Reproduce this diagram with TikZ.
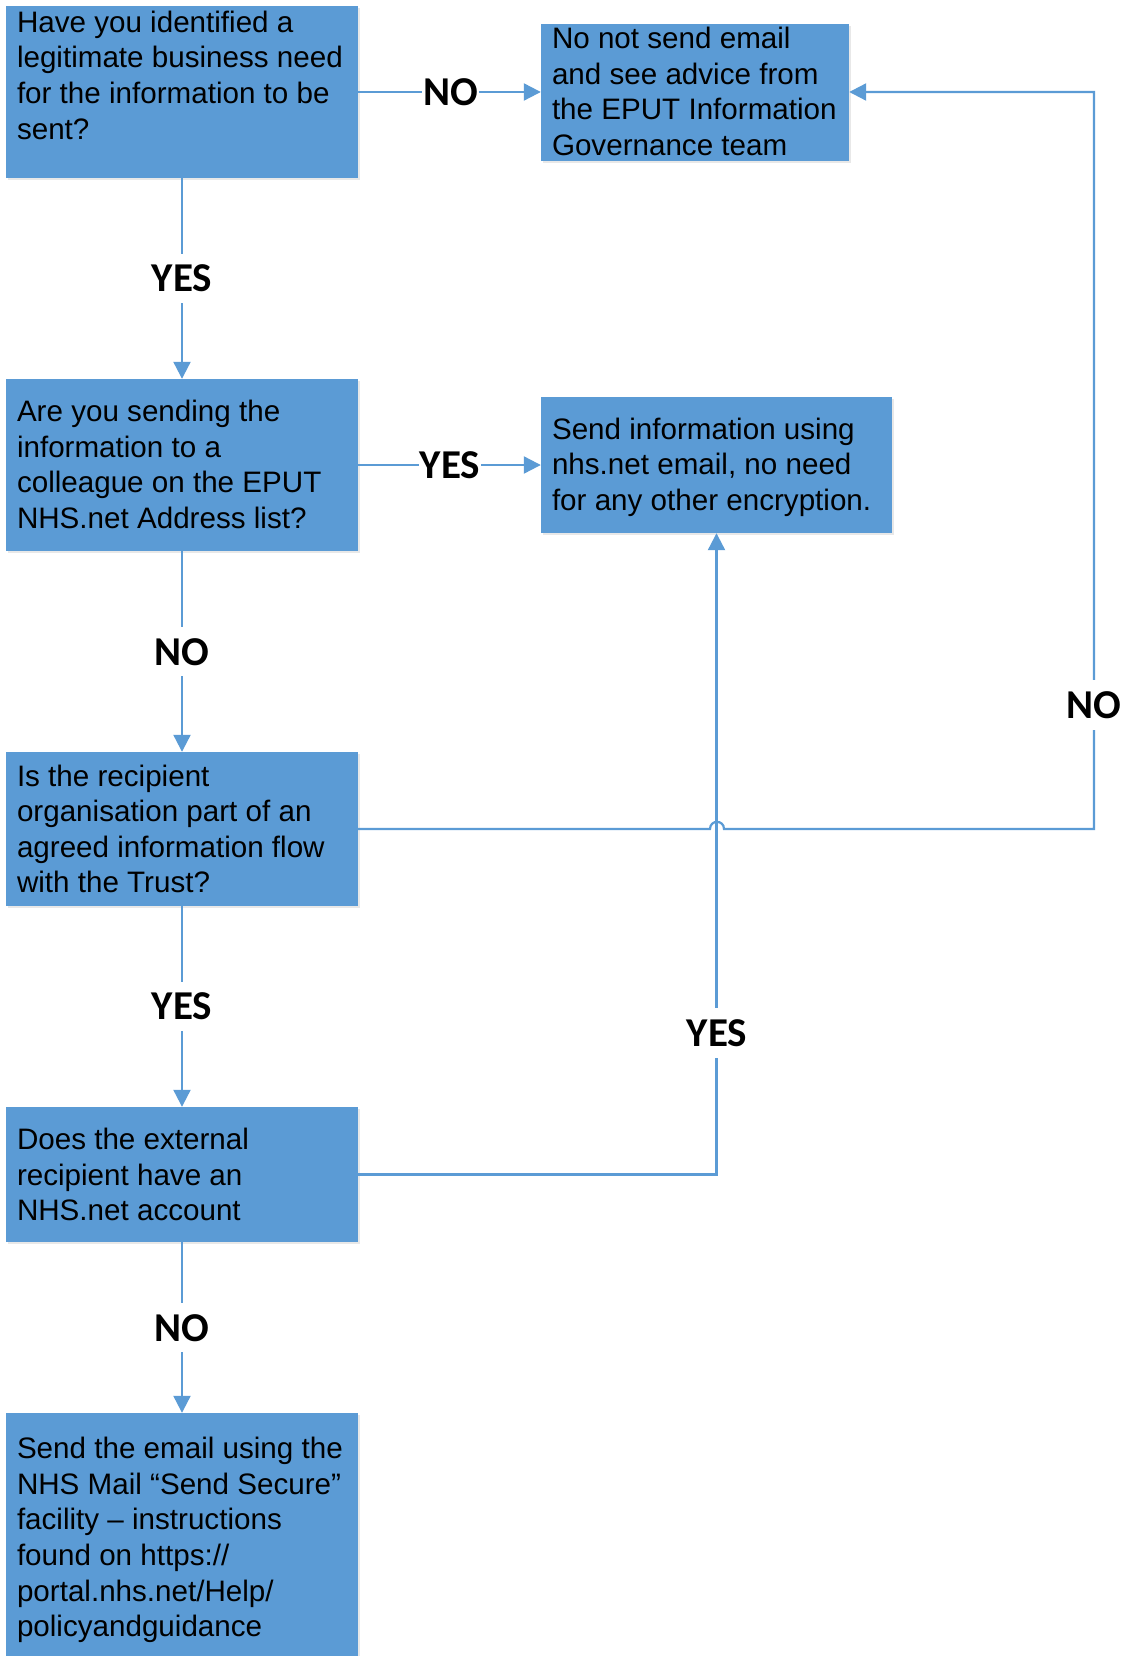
\documentclass[tikz,border=0pt]{standalone}
\usepackage{fontspec}
\setmainfont{Liberation Sans}
\newfontfamily\lblfont{Carlito}
\usetikzlibrary{arrows.meta,shadows}
\definecolor{boxblue}{HTML}{5B9BD5}
\begin{document}
\begin{tikzpicture}[x=1pt,y=-1pt,
  box/.style={rectangle, fill=boxblue, inner sep=0pt, drop shadow={opacity=0.18,shadow xshift=2pt,shadow yshift=-2pt}},
  boxtext/.style={anchor=west, align=left, inner sep=0pt, font=\fontsize{29.6}{35.6}\selectfont},
  conn/.style={draw=boxblue, line width=2.2pt},
  arr/.style={conn, -{Triangle[length=17pt,width=17pt]}},
  lbl/.style={fill=white, inner xsep=1pt, inner ysep=11pt, font=\lblfont\bfseries\fontsize{41}{41}\selectfont}
]
\useasboundingbox (0,0) rectangle (1127,1656);

% boxes
\node[box, minimum width=352pt, minimum height=172pt] (b1) at (182,92) {};
\node[box, minimum width=308pt, minimum height=137pt] (b2) at (695,92.5) {};
\node[box, minimum width=352pt, minimum height=172pt] (b3) at (182,465) {};
\node[box, minimum width=351pt, minimum height=136pt] (b4) at (716.5,465) {};
\node[box, minimum width=352pt, minimum height=154pt] (b5) at (182,829) {};
\node[box, minimum width=352pt, minimum height=135pt] (b6) at (182,1174.5) {};
\node[box, minimum width=352pt, minimum height=248pt] (b7) at (182,1537) {};

% texts
\node[boxtext] (t1) at ([xshift=11pt,yshift=16.8pt]b1.west) {Have you identified a\\legitimate business need\\for the information to be\\sent?};
\node[boxtext] (t2) at ([xshift=11pt,yshift=1pt]b2.west) {No not send email\\and see advice from\\the EPUT Information\\Governance team};
\node[boxtext] (t3) at ([xshift=11pt,yshift=0.5pt]b3.west) {Are you sending the\\information to a\\colleague on the EPUT\\NHS.net Address list?};
\node[boxtext] (t4) at ([xshift=11pt,yshift=-2pt]b4.west) {Send information using\\nhs.net email, no need\\for any other encryption.};
\node[boxtext] (t5) at ([xshift=11pt]b5.west) {Is the recipient\\organisation part of an\\agreed information flow\\with the Trust?};
\node[boxtext] (t6) at ([xshift=11pt]b6.west) {Does the external\\recipient have an\\NHS.net account};
\node[boxtext] (t7) at ([xshift=11pt,yshift=-3pt]b7.west) {Send the email using the\\NHS Mail “Send Secure”\\facility – instructions\\found on https://\\portal.nhs.net/Help/\\policyandguidance};

% helper coordinates
\coordinate (hopL) at (710,829);
\coordinate (hopR) at (724,829);
\coordinate (cornerLow) at (1094,829);
\coordinate (cornerHigh) at (1094,92);

% connectors
\draw[arr] (b1.east) -- (b1.east -| b2.west);
\draw[arr] (b1.south) -- (b3.north);
\draw[arr] (b3.east) -- (b3.east -| b4.west);
\draw[arr] (b3.south) -- (b5.north);
\draw[arr] (b5.south) -- (b6.north);
\draw[arr] (b6.south) -- (b7.north);
\draw[arr] (b6.east) -| (b4.south);
\draw[arr] (b5.east) -- (hopL) .. controls (710,819.5) and (724,819.5) .. (hopR) -- (cornerLow) -- (cornerHigh) -- (b2.east |- cornerHigh);

% labels
\node[lbl] (l1) at (450.5,92) {NO};
\node[lbl] (l2) at (182,278.5) {YES};
\node[lbl] (l3) at (450,465) {YES};
\node[lbl] (l4) at (182,651.7) {NO};
\node[lbl] (l5) at (1094,705) {NO};
\node[lbl] (l6) at (182,1006.6) {YES};
\node[lbl] (l7) at (717,1033) {YES};
\node[lbl] (l8) at (182,1327.7) {NO};
\end{tikzpicture}
\end{document}
